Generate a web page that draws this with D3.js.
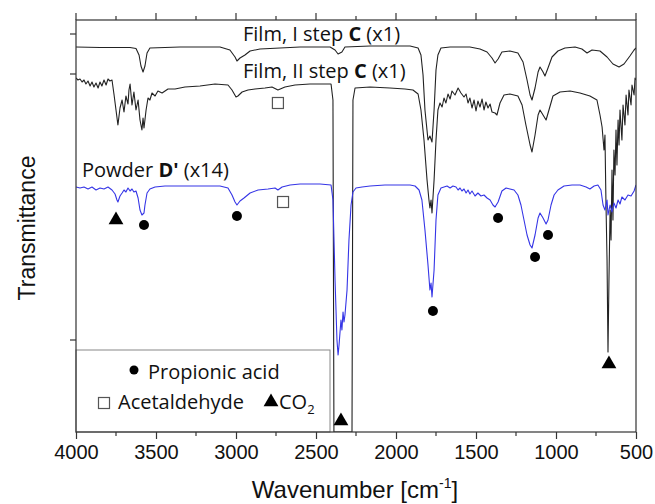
<!DOCTYPE html>
<html>
<head>
<meta charset="utf-8">
<script src="https://cdn.jsdelivr.net/npm/d3@7"></script>
<style>
  html, body { margin: 0; padding: 0; background: #fff; }
  svg { display: block; }
</style>
</head>
<body>
<svg id="chart" width="655" height="504"></svg>
<script>
// FTIR spectra: wavenumber [cm-1] vs transmittance (arbitrary units, offset traces)

const xTicksMajor = [4000, 3500, 3000, 2500, 2000, 1500, 1000, 500];
const xTicksMinor = [3750, 3250, 2750, 2250, 1750, 1250, 750];
const yTicks = [398, 358, 92];

// Film, I step C (x1)
const filmI = [
  [4000,385],[3850,384.5],[3662,384.5],[3625,383.5],[3606,377],[3594,366],[3581,360],[3569,366],
  [3556,379],[3538,384],[3350,385],[3100,385],[3038,382],[3006,375],[2994,371],[2975,374],
  [2944,377],[2912,381],[2850,383],[2600,385],[2412,385],[2381,382],[2362,378],[2338,380],
  [2319,385],[2162,386],[1912,386],[1862,384],[1844,377],[1831,357],[1819,322],[1800,292],
  [1788,296],[1775,290],[1762,322],[1750,362],[1738,377],[1719,384],[1662,385],[1538,385],
  [1475,383],[1431,380],[1400,374],[1381,369],[1362,373],[1338,380],[1288,381],[1238,379],
  [1206,370],[1181,352],[1162,337],[1150,332],[1131,344],[1112,360],[1100,365],[1081,360],
  [1069,356],[1050,364],[1025,375],[988,381],[944,384],[881,385],[838,383],[806,379],
  [775,382],[725,381],[681,375],[644,368],[606,365],[575,368],[538,376],[512,382],[500,384]
];

// Film, II step C (x1)
const filmII = [
  [4000,354],[3988,352],[3975,353],[3962,350],[3950,352],[3938,348],[3925,351],[3912,346],
  [3900,350],[3888,345],[3875,349],[3862,344],[3850,350],[3838,346],[3825,352],[3812,347],
  [3800,353],[3788,351],[3775,352],[3762,337],[3750,322],[3738,307],[3725,324],[3712,332],
  [3700,320],[3688,336],[3675,328],[3669,342],[3662,348],[3650,327],[3638,340],[3625,322],
  [3612,332],[3600,312],[3588,302],[3581,314],[3575,304],[3562,322],[3550,334],[3538,332],
  [3525,339],[3506,336],[3488,341],[3462,339],[3425,343],[3381,343],[3319,345],[3225,346],
  [3131,348],[3050,347],[3025,342],[3000,335],[2988,336],[2962,340],[2925,342],[2881,343],
  [2819,344],[2775,345],[2738,342],[2694,345],[2631,347],[2538,348],[2444,348],[2406,348],
  [2394,332],[2388,0],[2275,0],[2269,332],[2256,344],[2162,345],[2038,344],[1944,343],
  [1894,342],[1862,338],[1844,322],[1825,292],[1806,252],[1794,232],[1788,224],[1781,232],
  [1775,219],[1762,252],[1750,292],[1738,322],[1725,329],[1712,325],[1700,334],[1688,329],
  [1675,338],[1662,333],[1650,341],[1631,337],[1612,344],[1594,339],[1575,335],[1562,338],
  [1550,329],[1538,334],[1525,324],[1512,332],[1500,321],[1488,331],[1475,325],[1462,333],
  [1450,322],[1438,330],[1425,324],[1412,328],[1400,320],[1381,319],[1369,317],[1350,329],
  [1325,337],[1288,338],[1238,336],[1212,327],[1188,307],[1162,287],[1150,280],[1131,297],
  [1112,317],[1100,322],[1081,317],[1062,312],[1044,322],[1019,336],[975,340],[912,341],
  [850,339],[788,336],[744,332],[725,317],[712,305],[700,282],[694,297],[688,232],
  [681,172],[675,80],[669,152],[662,222],[656,192],[650,262],[644,212],[638,282],
  [631,257],[625,302],[619,267],[612,312],[606,287],[600,322],[588,292],[581,327],
  [569,307],[562,337],[550,317],[544,342],[531,327],[525,347],[512,337],[506,354],[500,352]
];

// Powder D' (x14)
const powderD = [
  [4000,245],[3975,244],[3950,245],[3925,243],[3900,245],[3875,242],[3850,244],[3825,243],
  [3800,245],[3775,242],[3756,238],[3744,232],[3738,230],[3725,236],[3712,239],[3700,242],
  [3688,240],[3675,244],[3662,241],[3650,243],[3638,240],[3625,241],[3612,234],[3600,222],
  [3588,217],[3575,219],[3569,227],[3556,239],[3538,243],[3506,245],[3444,246],[3350,246],
  [3225,246],[3100,246],[3050,244],[3025,237],[3006,230],[2994,227],[2975,231],[2950,234],
  [2912,239],[2862,242],[2800,243],[2756,244],[2738,242],[2712,245],[2662,247],[2600,248],
  [2475,248],[2406,247],[2394,232],[2381,152],[2369,92],[2362,77],[2356,87],[2344,112],
  [2338,102],[2331,120],[2325,110],[2319,117],[2306,142],[2294,192],[2281,227],[2269,240],
  [2250,244],[2212,245],[2162,246],[2069,247],[1975,247],[1912,247],[1881,246],[1856,242],
  [1838,232],[1819,202],[1800,167],[1788,142],[1781,149],[1775,135],[1762,162],[1750,212],
  [1738,237],[1719,244],[1700,245],[1681,246],[1662,244],[1644,246],[1625,245],[1612,242],
  [1600,244],[1588,241],[1575,243],[1562,239],[1550,242],[1538,238],[1525,241],[1506,236],
  [1488,239],[1469,236],[1450,237],[1431,234],[1412,232],[1394,227],[1381,225],[1362,230],
  [1338,241],[1312,244],[1288,243],[1262,242],[1238,237],[1219,227],[1200,212],[1181,197],
  [1162,187],[1150,184],[1131,197],[1112,214],[1100,219],[1081,214],[1062,208],[1050,212],
  [1031,227],[1012,237],[988,242],[950,246],[900,247],[850,247],[812,245],[788,243],
  [762,246],[738,247],[719,242],[706,227],[694,222],[681,232],[675,217],[662,227],
  [650,220],[638,229],[625,224],[612,232],[600,228],[588,235],[569,232],[550,237],
  [531,236],[512,241],[500,247]
];

// Band assignments
const propionicAcid = [[3575,207],[2994,216],[1769,121],[1362,214],[1131,175],[1050,197]];
const acetaldehyde = [[2706,230],[2738,329]];
const co2 = [[3750,212],[2344,11],[669,68]];

const svg = d3.select("#chart");
const frame = { left: 76, right: 636, top: 20, bottom: 432 };

const x = d3.scaleLinear().domain([4000, 500]).range([frame.left, frame.right]);
const y = d3.scaleLinear().domain([0, 412]).range([frame.bottom, frame.top]);

const axisColor = "#333";
const tickFont = "'Liberation Sans', Arial, sans-serif";
const labelFont = "'Open Sans', 'Noto Sans', sans-serif";

svg.append("clipPath").attr("id", "plotClip")
  .append("rect")
  .attr("x", frame.left).attr("y", frame.top)
  .attr("width", frame.right - frame.left).attr("height", frame.bottom - frame.top);

// Spectra
const line = d3.line().x(d => x(d[0])).y(d => y(d[1]));
const plot = svg.append("g").attr("clip-path", "url(#plotClip)");

plot.append("path").datum(filmI)
  .attr("d", line).attr("fill", "none")
  .attr("stroke", "#222").attr("stroke-width", 1.1).attr("stroke-linejoin", "round");
plot.append("path").datum(filmII)
  .attr("d", line).attr("fill", "none")
  .attr("stroke", "#222").attr("stroke-width", 1.1).attr("stroke-linejoin", "round");
plot.append("path").datum(powderD)
  .attr("d", line).attr("fill", "none")
  .attr("stroke", "#3535e6").attr("stroke-width", 1.1).attr("stroke-linejoin", "round");

// Legend box
const legend = svg.append("g");
legend.append("rect")
  .attr("x", frame.left).attr("y", 350)
  .attr("width", 330 - frame.left).attr("height", frame.bottom - 350)
  .attr("fill", "#fff").attr("stroke", "#888").attr("stroke-width", 1);

// Markers
const triangle = d3.symbol().type(d3.symbolTriangle).size(95);

svg.append("g").selectAll("circle").data(propionicAcid).join("circle")
  .attr("cx", d => x(d[0])).attr("cy", d => y(d[1])).attr("r", 5).attr("fill", "#000");

svg.append("g").selectAll("rect").data(acetaldehyde).join("rect")
  .attr("x", d => x(d[0]) - 5.5).attr("y", d => y(d[1]) - 5.5)
  .attr("width", 11).attr("height", 11)
  .attr("fill", "#fff").attr("stroke", "#555").attr("stroke-width", 1.2);

svg.append("g").selectAll("path").data(co2).join("path")
  .attr("d", triangle)
  .attr("transform", d => `translate(${x(d[0])},${y(d[1])})`)
  .attr("fill", "#000");

// Frame
svg.append("rect")
  .attr("x", frame.left).attr("y", frame.top)
  .attr("width", frame.right - frame.left).attr("height", frame.bottom - frame.top)
  .attr("fill", "none").attr("stroke", axisColor).attr("stroke-width", 1.2);

// Bottom axis
const bottomAxis = svg.append("g").attr("transform", `translate(0,${frame.bottom})`);
bottomAxis.call(d3.axisBottom(x).tickValues(xTicksMajor).tickSize(7).tickPadding(6).tickFormat(d3.format("d")));
bottomAxis.select(".domain").remove();
bottomAxis.selectAll("line").attr("stroke", axisColor).attr("stroke-width", 1.2);
bottomAxis.selectAll("text").attr("font-family", tickFont).attr("font-size", 20).attr("fill", "#111");
bottomAxis.append("g").selectAll("line").data(xTicksMinor).join("line")
  .attr("x1", d => x(d)).attr("x2", d => x(d)).attr("y1", 0).attr("y2", 4)
  .attr("stroke", axisColor).attr("stroke-width", 1.2);

// Top axis (ticks only)
const topAxis = svg.append("g").attr("transform", `translate(0,${frame.top})`);
topAxis.selectAll("line.major").data(xTicksMajor).join("line")
  .attr("x1", d => x(d)).attr("x2", d => x(d)).attr("y1", 0).attr("y2", -7)
  .attr("stroke", axisColor).attr("stroke-width", 1.2);
topAxis.selectAll("line.minor").data(xTicksMinor).join("line")
  .attr("x1", d => x(d)).attr("x2", d => x(d)).attr("y1", 0).attr("y2", -4)
  .attr("stroke", axisColor).attr("stroke-width", 1.2);

// Left axis (ticks only)
const leftAxis = svg.append("g").attr("transform", `translate(${frame.left},0)`);
leftAxis.selectAll("line").data(yTicks).join("line")
  .attr("x1", 0).attr("x2", -6).attr("y1", d => y(d)).attr("y2", d => y(d))
  .attr("stroke", axisColor).attr("stroke-width", 1.2);

// Axis titles
const xTitle = svg.append("text")
  .attr("x", 355).attr("y", 498)
  .attr("text-anchor", "middle")
  .attr("font-family", tickFont).attr("font-size", 24).attr("fill", "#111");
xTitle.append("tspan").text("Wavenumber [cm");
xTitle.append("tspan").attr("dy", -10).attr("font-size", 14).text("-1");
xTitle.append("tspan").attr("dy", 10).text("]");

svg.append("text")
  .attr("transform", "translate(35,228) rotate(-90)")
  .attr("text-anchor", "middle")
  .attr("font-family", tickFont).attr("font-size", 23).attr("fill", "#111")
  .text("Transmittance");

// Trace labels
function traceLabel(px, py, parts) {
  const t = svg.append("text").attr("x", px).attr("y", py)
    .attr("font-family", labelFont).attr("font-size", 20).attr("fill", "#111");
  parts.forEach(p => t.append("tspan").attr("font-weight", p[1] ? "bold" : null).text(p[0]));
}
traceLabel(243, 41, [["Film, I step ", false], ["C", true], [" (x1)", false]]);
traceLabel(243, 78, [["Film, II step ", false], ["C", true], [" (x1)", false]]);
traceLabel(82, 177, [["Powder ", false], ["D'", true], [" (x14)", false]]);

// Legend entries
legend.append("circle").attr("cx", 134).attr("cy", 370).attr("r", 4.5).attr("fill", "#000");
legend.append("text").attr("x", 148).attr("y", 379)
  .attr("font-family", labelFont).attr("font-size", 20).attr("fill", "#111")
  .text("Propionic acid");
legend.append("rect").attr("x", 98.5).attr("y", 397.5).attr("width", 11).attr("height", 11)
  .attr("fill", "#fff").attr("stroke", "#555").attr("stroke-width", 1.2);
legend.append("text").attr("x", 118).attr("y", 409)
  .attr("font-family", labelFont).attr("font-size", 20).attr("fill", "#111")
  .text("Acetaldehyde");
legend.append("path").attr("d", triangle)
  .attr("transform", "translate(271,402)").attr("fill", "#000");
const co2Text = legend.append("text").attr("x", 279).attr("y", 409)
  .attr("font-family", labelFont).attr("font-size", 20).attr("fill", "#111");
co2Text.append("tspan").text("CO");
co2Text.append("tspan").attr("dy", 5).attr("font-size", 13).text("2");
</script>
</body>
</html>
